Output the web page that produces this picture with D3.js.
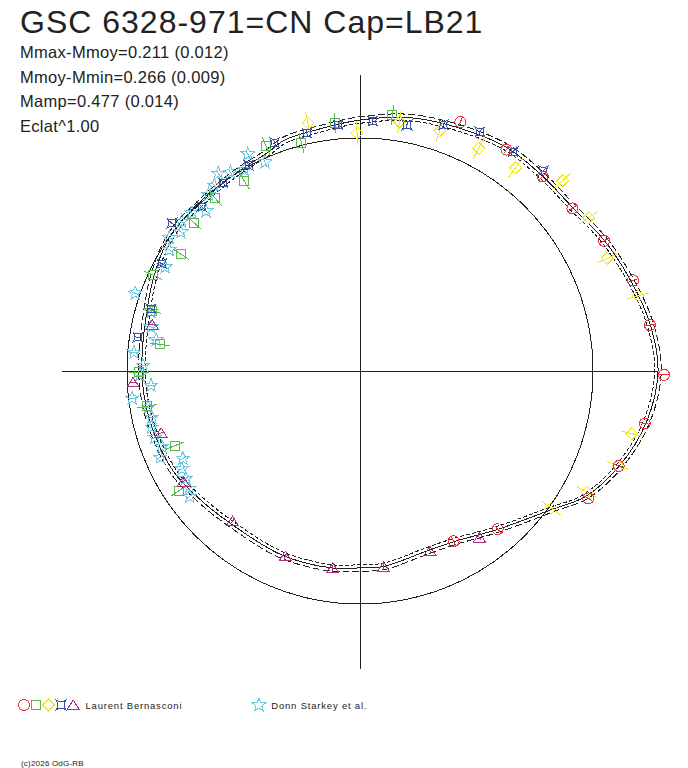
<!DOCTYPE html>
<html>
<head>
<meta charset="utf-8">
<script src="https://cdn.jsdelivr.net/npm/d3@7"></script>
<style>
body { margin: 0; background: #fff; }
text { font-family: "Liberation Sans", Arial, sans-serif; fill: #222; }
</style>
</head>
<body>
<div id="chart"></div>
<script>
// title and stats
var title = "GSC 6328-971=CN Cap=LB21";
var stats = ["Mmax-Mmoy=0.211 (0.012)", "Mmoy-Mmin=0.266 (0.009)", "Mamp=0.477 (0.014)", "Eclat^1.00"];

// fitted curve: phase (0..1, clockwise from top) and relative flux (reference circle = 1)
var curvePhase = [0, 0.036, 0.089, 0.119, 0.144, 0.172, 0.200, 0.225, 0.250, 0.278, 0.306, 0.331, 0.350,
    0.386, 0.419, 0.442, 0.481, 0.500, 0.522, 0.564, 0.611, 0.642, 0.672, 0.714, 0.750, 0.806, 0.828,
    0.844, 0.861, 0.875, 0.892, 0.914, 0.936, 0.950, 0.972];
var curveFlux = [1.077, 1.112, 1.146, 1.146, 1.150, 1.189, 1.227, 1.262, 1.279, 1.249, 1.185, 1.107, 1.013,
    0.901, 0.837, 0.824, 0.845, 0.845, 0.854, 0.858, 0.858, 0.880, 0.910, 0.927, 0.936, 0.961, 0.983,
    0.996, 1.000, 0.994, 0.996, 1.004, 1.017, 1.043, 1.052];
var curveErr = 0.014;

// observations, Laurent Bernasconi (5 runs) and Donn Starkey et al.
var redPhase = [0.061, 0.093, 0.120, 0.146, 0.172, 0.199, 0.225, 0.252, 0.279, 0.306, 0.331, 0.386, 0.420];
var redFlux = [1.152, 1.139, 1.145, 1.148, 1.187, 1.235, 1.260, 1.305, 1.243, 1.183, 1.122, 0.900, 0.834];

var greenPhase = [0.937, 0.960, 0.984, 0.020, 0.913, 0.889, 0.866, 0.842, 0.819, 0.795, 0.771, 0.749, 0.724, 0.689, 0.657];
var greenFlux = [1.046, 1.010, 1.070, 1.107, 0.955, 0.966, 0.955, 0.918, 0.978, 0.929, 0.866, 0.949, 0.926, 0.857, 0.932];

var yellowPhase = [0.967, 0.998, 0.025, 0.051, 0.078, 0.104, 0.130, 0.156, 0.182, 0.208, 0.286, 0.306, 0.328, 0.349];
var yellowFlux = [1.088, 1.021, 1.082, 1.086, 1.083, 1.099, 1.193, 1.181, 1.166, 1.236, 1.197, 1.180, 1.104, 1.009];

var bluePhase = [0.943, 0.965, 0.986, 0.008, 0.030, 0.052, 0.074, 0.097, 0.118, 0.921, 0.900, 0.878, 0.856, 0.829, 0.796, 0.774];
var blueFlux = [1.046, 1.046, 1.060, 1.074, 1.075, 1.116, 1.148, 1.147, 1.166, 1.004, 0.998, 0.980, 1.027, 0.968, 0.936, 0.964];

var purplePhase = [0.401, 0.441, 0.481, 0.522, 0.561, 0.612, 0.661, 0.702, 0.742, 0.785];
var purpleFlux = [0.880, 0.829, 0.847, 0.853, 0.857, 0.846, 0.894, 0.894, 0.975, 0.914];

var cyanPhase = [0.924, 0.932, 0.901, 0.908, 0.917, 0.894, 0.887, 0.878, 0.870, 0.861, 0.855, 0.847, 0.840,
    0.828, 0.803, 0.794, 0.783, 0.774, 0.763, 0.754, 0.747, 0.739, 0.731, 0.723, 0.715, 0.708, 0.700,
    0.692, 0.685, 0.677, 0.670, 0.662, 0.654, 0.649];
var cyanFlux = [1.048, 0.985, 1.043, 1.018, 0.996, 1.012, 0.998, 0.953, 0.990, 0.999, 0.973, 0.999, 0.970,
    0.948, 1.021, 0.932, 0.917, 0.885, 0.973, 0.932, 0.944, 0.899, 0.985, 0.923, 0.915, 0.926, 0.926,
    0.910, 0.934, 0.848, 0.872, 0.879, 0.889, 0.908];

// typical error per run (relative flux)
var seriesErr = { red: 0.02, green: 0.042, yellow: 0.05, blue: 0.018, purple: 0.015, cyan: 0.018 };

var legendGroups = [
    { label: "Laurent Bernasconi", keys: ["red", "green", "yellow", "blue", "purple"] },
    { label: "Donn Starkey et al.", keys: ["cyan"] }
];
var footer = "(c)2026 OdG-RB";

var width = 688, height = 768;
var cx = 360, cy = 371;

var colors = { red: "#e8343c", green: "#5cb84a", yellow: "#f2e41e", blue: "#3c50a6", purple: "#a8307e", cyan: "#6cc8e0" };

var r = d3.scaleLinear().domain([0, 1]).range([0, 233]);
var ang = d3.scaleLinear().domain([0, 1]).range([0, 2 * Math.PI]);

// marker shapes, centred at 0,0
var shapes = {
    red: function() { return "M5.5,0A5.5,5.5 0 1,1 -5.5,0A5.5,5.5 0 1,1 5.5,0Z"; },
    green: function() { return "M-4.5,-4.5H4.5V4.5H-4.5Z"; },
    yellow: function() { return "M0,-6L6,0L0,6L-6,0Z"; },
    blue: function() { return "M-4.5,-4.5Q0,-2 4.5,-4.5Q2,0 4.5,4.5Q0,2 -4.5,4.5Q-2,0 -4.5,-4.5Z"; },
    purple: function() { return "M0,-5L6,4.5H-6Z"; },
    cyan: function() {
        var p = [];
        for (var i = 0; i < 10; i++) {
            var a = i * Math.PI / 5, rr = i % 2 ? 3 : 7;
            p.push([rr * Math.sin(a), -rr * Math.cos(a)]);
        }
        return "M" + p.join("L") + "Z";
    }
};

var series = [
    { key: "cyan", phase: cyanPhase, flux: cyanFlux },
    { key: "green", phase: greenPhase, flux: greenFlux },
    { key: "yellow", phase: yellowPhase, flux: yellowFlux },
    { key: "purple", phase: purplePhase, flux: purpleFlux },
    { key: "blue", phase: bluePhase, flux: blueFlux },
    { key: "red", phase: redPhase, flux: redFlux }
];

var svg = d3.select("#chart").append("svg")
    .attr("width", width)
    .attr("height", height)
    .style("shape-rendering", "crispEdges");

// header
svg.append("text").attr("x", 20).attr("y", 33)
    .style("font-size", "32px")
    .style("letter-spacing", "1px")
    .text(title);
svg.selectAll(".stat").data(stats).enter().append("text")
    .attr("class", "stat")
    .attr("x", 20)
    .attr("y", function(d, i) { return 58 + i * 24.7; })
    .style("font-size", "16.5px")
    .style("letter-spacing", "0.3px")
    .text(function(d) { return d; });

var g = svg.append("g").attr("transform", "translate(" + cx + "," + cy + ")");

// axes: as long as the brightest point of the fit
var axisLen = r(d3.max(curveFlux));
g.append("line").attr("x1", -axisLen).attr("x2", axisLen).attr("stroke", "#222");
g.append("line").attr("y1", -axisLen + 2).attr("y2", axisLen).attr("stroke", "#222");

// reference circle
g.append("circle").attr("r", r(1)).attr("fill", "none").attr("stroke", "#222");

// fitted curve and its envelope
var curvePts = curvePhase.map(function(p, i) { return { p: p, f: curveFlux[i] }; });
function radial(offset) {
    return d3.lineRadial()
        .angle(function(d) { return ang(d.p); })
        .radius(function(d) { return r(d.f + offset); })
        .curve(d3.curveCatmullRomClosed.alpha(0.5));
}
g.append("path").attr("d", radial(curveErr)(curvePts))
    .attr("fill", "none").attr("stroke", "#222").attr("stroke-dasharray", "7,3");
g.append("path").attr("d", radial(-curveErr)(curvePts))
    .attr("fill", "none").attr("stroke", "#222").attr("stroke-dasharray", "4,2");
g.append("path").attr("d", radial(0)(curvePts))
    .attr("fill", "none").attr("stroke", "#222");

// observations with radial error bars
series.forEach(function(s) {
    var pts = s.phase.map(function(p, i) { return { p: p, f: s.flux[i] }; });
    var e = seriesErr[s.key];
    var sg = g.append("g").attr("stroke", colors[s.key]).attr("fill", "none");
    sg.selectAll("line").data(pts).enter().append("line")
        .each(function(d) {
            var a = d3.pointRadial(ang(d.p), r(d.f - e));
            var b = d3.pointRadial(ang(d.p), r(d.f + e));
            d3.select(this).attr("x1", a[0]).attr("y1", a[1]).attr("x2", b[0]).attr("y2", b[1]);
        });
    sg.selectAll("path").data(pts).enter().append("path")
        .attr("d", shapes[s.key]())
        .attr("transform", function(d) {
            var c = d3.pointRadial(ang(d.p), r(d.f));
            return "translate(" + c[0] + "," + c[1] + ")";
        });
});

// legend
var lx = [24, 259];
legendGroups.forEach(function(lg, gi) {
    var x0 = lx[gi];
    lg.keys.forEach(function(k, i) {
        svg.append("path")
            .attr("d", shapes[k]())
            .attr("transform", "translate(" + (x0 + i * 12.3) + ",705)")
            .attr("fill", "none").attr("stroke", colors[k]);
    });
    svg.append("text")
        .attr("x", x0 + lg.keys.length * 12.3)
        .attr("y", 709)
        .style("font-size", "9.5px")
        .style("letter-spacing", "0.8px")
        .text(lg.label);
});

svg.append("text").attr("x", 21).attr("y", 766)
    .style("font-size", "8px")
    .style("letter-spacing", "0.2px")
    .text(footer);
</script>
</body>
</html>
